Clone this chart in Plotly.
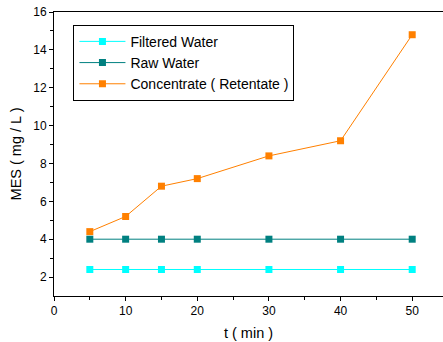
import plotly.graph_objects as go

t = [5, 10, 15, 20, 30, 40, 50]
filtered = [2.4, 2.4, 2.4, 2.4, 2.4, 2.4, 2.4]
raw = [4.0, 4.0, 4.0, 4.0, 4.0, 4.0, 4.0]
concentrate = [4.4, 5.2, 6.8, 7.2, 8.4, 9.2, 14.8]

names = ["Filtered Water", "Raw Water", "Concentrate ( Retentate )"]
colors = ["#00FFFF", "#008080", "#FF8000"]

fig = go.Figure()
for name, ys, c in zip(names, [filtered, raw, concentrate], colors):
    fig.add_trace(go.Scatter(x=t, y=ys, name=name, mode="lines+markers",
                             line=dict(color=c, width=1),
                             marker=dict(symbol="square", size=7, color=c,
                                         line=dict(width=0))))

font = "Liberation Sans, Arial, sans-serif"
fig.update_layout(
    width=443, height=342,
    margin=dict(l=54, r=0, t=12, b=46),
    paper_bgcolor="white", plot_bgcolor="white",
    font=dict(family=font, size=12, color="black"),
    showlegend=True,
    legend=dict(x=0.05, y=0.955, xanchor="left", yanchor="top",
                bordercolor="black", borderwidth=1, bgcolor="white",
                font=dict(size=14, family=font), tracegroupgap=0,
                itemwidth=46),
)
fig.update_xaxes(range=[0, 54.3], showgrid=False, zeroline=False,
                 showline=True, linecolor="black", linewidth=1, mirror=True,
                 ticks="outside", ticklen=4, tickcolor="black",
                 tickvals=[0, 10, 20, 30, 40, 50],
                 minor=dict(tickvals=[5, 15, 25, 35, 45], ticks="outside",
                            ticklen=3, tickcolor="black"),
                 title=dict(text="t ( min )", font=dict(size=14.5), standoff=10))
fig.update_yaxes(range=[1, 16], showgrid=False, zeroline=False,
                 showline=True, linecolor="black", linewidth=1,
                 ticks="outside", ticklen=4, tickcolor="black",
                 tickvals=[2, 4, 6, 8, 10, 12, 14, 16],
                 minor=dict(tickvals=[3, 5, 7, 9, 11, 13, 15], ticks="outside",
                            ticklen=3, tickcolor="black"),
                 title=dict(text="MES ( mg / L )", font=dict(size=14.5), standoff=8))

fig.write_html("out.html")
